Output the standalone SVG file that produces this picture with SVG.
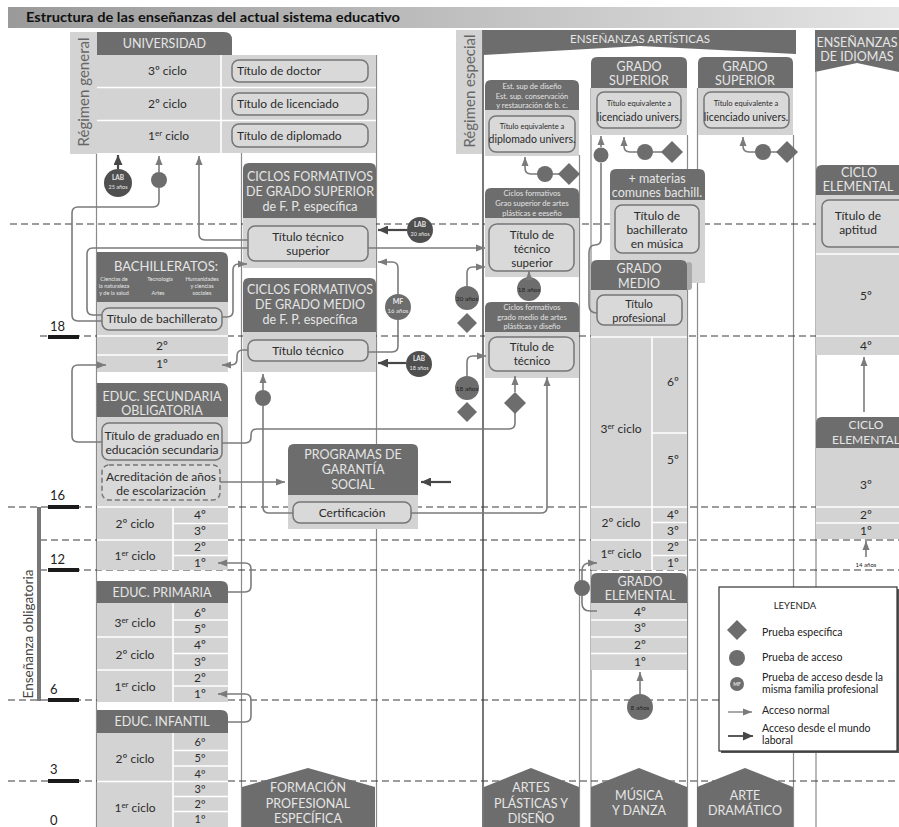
<svg xmlns="http://www.w3.org/2000/svg" width="899" height="827" viewBox="0 0 899 827">
<defs>
<linearGradient id="tg" x1="0" x2="1" y1="0" y2="0"><stop offset="0" stop-color="#9a9a9a"/><stop offset="1" stop-color="#e4e4e4"/></linearGradient>
<marker id="an" markerUnits="userSpaceOnUse" markerWidth="9" markerHeight="8" refX="9" refY="4" orient="auto"><path d="M0,0.5 L9,4 L0,7.5 Z" fill="#7b7b7b"/></marker>
<marker id="al" markerUnits="userSpaceOnUse" markerWidth="10" markerHeight="9" refX="10" refY="4.5" orient="auto"><path d="M0,0 L10,4.5 L0,9 Z" fill="#474747"/></marker>
<style>
text{font-family:Lato,"Open Sans","DejaVu Sans",sans-serif}
.lt{fill:#d3d3d3}
.hd{fill:#6d6d6d}
.bx{fill:#d9d9d9;stroke:#767676;stroke-width:1.5}
.h{fill:#e6e6e6;text-anchor:middle;font-size:12.5px}
.t{fill:#2b2b2b;text-anchor:middle;font-size:12px}
.w{stroke:#fff;stroke-width:1.6}
.vl{stroke:#8a8a8a;stroke-width:1.2}
.ds{stroke:#3a3a3a;stroke-width:1.2;stroke-dasharray:7 4}
.cn{fill:none;stroke:#7b7b7b;stroke-width:1.6}
.cl{fill:none;stroke:#474747;stroke-width:2.2}
.dot{fill:#6d6d6d}
.dk{fill:#4f4f4f}
.st{fill:#e4e4e4;text-anchor:middle;font-size:7.5px}
.sm{fill:#222;text-anchor:middle;font-size:6.5px}
.lw{fill:#e8e8e8;text-anchor:middle;font-size:6px}
.age{fill:#222;font-size:13px}
.lg{fill:#222;font-size:10.5px}
</style>
</defs>

<g id="title">
<rect x="8" y="7" width="891" height="21" fill="url(#tg)"/>
<text x="26" y="22" font-size="14" font-weight="bold" fill="#111" textLength="374" lengthAdjust="spacingAndGlyphs">Estructura de las enseñanzas del actual sistema educativo</text>
</g>

<g id="column-lines">
<line class="vl" x1="96.5" y1="153" x2="96.5" y2="827"/>
<line class="vl" x1="241.5" y1="153" x2="241.5" y2="827"/>
<line class="vl" x1="376.5" y1="55" x2="376.5" y2="827"/>
<line x1="483" y1="30" x2="483" y2="827" stroke="#555" stroke-width="1.6"/>
<line class="vl" x1="579.5" y1="155" x2="579.5" y2="827"/>
<line class="vl" x1="591" y1="88" x2="591" y2="827"/>
<line class="vl" x1="687.5" y1="135" x2="687.5" y2="827"/>
<line class="vl" x1="697.5" y1="88" x2="697.5" y2="827"/>
<line class="vl" x1="793.5" y1="135" x2="793.5" y2="827"/>
<line class="vl" x1="816" y1="72" x2="816" y2="827"/>
</g>

<g id="age-lines">
<line class="ds" x1="10" y1="224" x2="899" y2="224"/>
<line class="ds" x1="40" y1="336" x2="899" y2="336"/>
<line class="ds" x1="8" y1="507" x2="899" y2="507"/>
<line class="ds" x1="40" y1="540" x2="899" y2="540"/>
<line class="ds" x1="40" y1="570" x2="899" y2="570"/>
<line class="ds" x1="8" y1="700" x2="899" y2="700"/>
<line class="ds" x1="8" y1="781" x2="899" y2="781"/>
</g>

<g id="age-marks">
<rect x="48" y="335" width="31" height="4" fill="#1a1a1a"/>
<rect x="48" y="505" width="31" height="4" fill="#1a1a1a"/>
<rect x="48" y="568" width="31" height="4" fill="#1a1a1a"/>
<rect x="48" y="698" width="31" height="4" fill="#1a1a1a"/>
<rect x="48" y="779" width="31" height="4" fill="#1a1a1a"/>
<text class="age" x="50" y="331">18</text>
<text class="age" x="50" y="500">16</text>
<text class="age" x="50" y="564">12</text>
<text class="age" x="50" y="694">6</text>
<text class="age" x="50" y="774">3</text>
<text class="age" x="50" y="825">0</text>
<rect x="37" y="507" width="4" height="194" fill="#777"/>
<text transform="translate(33,634) rotate(-90)" font-size="13.5" fill="#444" text-anchor="middle">Enseñanza obligatoria</text>
</g>

<g id="regimen-general">
<rect class="lt" x="70" y="32" width="27" height="122"/>
<text transform="translate(89,92) rotate(-90)" font-size="15" fill="#666" text-anchor="middle">Régimen general</text>
</g>

<g id="universidad">
<path class="hd" d="M97 32H224Q232 32 232 40V55H97Z"/>
<text class="h" x="164.5" y="48">UNIVERSIDAD</text>
<rect class="lt" x="97" y="55" width="279" height="98"/>
<line class="w" x1="97" y1="87.5" x2="376" y2="87.5"/>
<line class="w" x1="97" y1="120.5" x2="376" y2="120.5"/>
<line class="w" x1="221" y1="55" x2="221" y2="153"/>
<text class="t" x="148" y="75" style="text-anchor:start">3º ciclo</text>
<text class="t" x="148" y="108" style="text-anchor:start">2º ciclo</text>
<text class="t" x="148" y="140" style="text-anchor:start">1<tspan font-size="8" dy="-4">er</tspan><tspan dy="4"> ciclo</tspan></text>
<rect class="bx" x="232" y="60" width="136" height="22" rx="7"/>
<rect class="bx" x="232" y="93" width="136" height="22" rx="7"/>
<rect class="bx" x="232" y="124" width="136" height="23" rx="7"/>
<text class="t" x="237" y="75" style="text-anchor:start">Título de doctor</text>
<text class="t" x="237" y="108" style="text-anchor:start">Título de licenciado</text>
<text class="t" x="237" y="140" style="text-anchor:start">Título de diplomado</text>
</g>

<g id="bachilleratos">
<path class="hd" d="M97 252H221Q228 252 228 259V302H97Z"/>
<text class="h" x="166" y="271" style="font-size:13px">BACHILLERATOS:</text>
<text class="lw" x="114" y="281" style="font-size:5.5px">Ciencias de</text>
<text class="lw" x="114" y="288" style="font-size:5.5px">la naturaleza</text>
<text class="lw" x="114" y="295" style="font-size:5.5px">y de la salud</text>
<text class="lw" x="160" y="281" style="font-size:5.5px">Tecnología</text>
<text class="lw" x="158" y="295" style="font-size:5.5px">Artes</text>
<text class="lw" x="202" y="281" style="font-size:5.5px">Humanidades</text>
<text class="lw" x="202" y="288" style="font-size:5.5px">y ciencias</text>
<text class="lw" x="202" y="295" style="font-size:5.5px">sociales</text>
<rect class="lt" x="97" y="302" width="131" height="70"/>
<line class="w" x1="97" y1="336" x2="228" y2="336"/>
<line class="w" x1="97" y1="355" x2="228" y2="355"/>
<rect class="bx" x="102" y="308" width="120" height="22" rx="7"/>
<text class="t" x="162" y="323">Título de bachillerato</text>
<text class="t" x="162" y="350">2º</text>
<text class="t" x="162" y="368">1º</text>
</g>

<g id="eso">
<path class="hd" d="M97 383H221Q228 383 228 390V417H97Z"/>
<text class="h" x="162" y="401">EDUC. SECUNDARIA</text>
<text class="h" x="162" y="415">OBLIGATORIA</text>
<rect class="lt" x="97" y="417" width="131" height="153"/>
<line class="w" x1="97" y1="507" x2="228" y2="507"/>
<line class="w" x1="173" y1="523.5" x2="228" y2="523.5"/>
<line class="w" x1="97" y1="540" x2="228" y2="540"/>
<line class="w" x1="173" y1="555.5" x2="228" y2="555.5"/>
<line class="w" x1="173" y1="507" x2="173" y2="570"/>
<rect class="bx" x="102" y="423" width="120" height="37" rx="7"/>
<text class="t" x="162" y="440">Título de graduado en</text>
<text class="t" x="162" y="454">educación secundaria</text>
<rect x="102" y="465" width="118" height="35" rx="7" fill="#d9d9d9" stroke="#767676" stroke-width="1.5" stroke-dasharray="5 3"/>
<text class="t" x="161" y="481">Acreditación de años</text>
<text class="t" x="161" y="495">de escolarización</text>
<text class="t" x="135" y="528">2º ciclo</text>
<text class="t" x="135" y="560">1<tspan font-size="8" dy="-4">er</tspan><tspan dy="4"> ciclo</tspan></text>
<text class="t" x="200" y="519">4º</text>
<text class="t" x="200" y="535">3º</text>
<text class="t" x="200" y="551">2º</text>
<text class="t" x="200" y="567">1º</text>
</g>

<g id="primaria">
<path class="hd" d="M97 581H221Q228 581 228 588V603H97Z"/>
<text class="h" x="162" y="597">EDUC. PRIMARIA</text>
<rect class="lt" x="97" y="603" width="131" height="99"/>
<line class="w" x1="173" y1="620" x2="228" y2="620"/>
<line class="w" x1="97" y1="637" x2="228" y2="637"/>
<line class="w" x1="173" y1="653.5" x2="228" y2="653.5"/>
<line class="w" x1="97" y1="670" x2="228" y2="670"/>
<line class="w" x1="173" y1="686" x2="228" y2="686"/>
<line class="w" x1="173" y1="603" x2="173" y2="702"/>
<text class="t" x="135" y="627">3<tspan font-size="8" dy="-4">er</tspan><tspan dy="4"> ciclo</tspan></text>
<text class="t" x="135" y="659">2º ciclo</text>
<text class="t" x="135" y="691">1<tspan font-size="8" dy="-4">er</tspan><tspan dy="4"> ciclo</tspan></text>
<text class="t" x="200" y="617">6º</text>
<text class="t" x="200" y="633">5º</text>
<text class="t" x="200" y="649">4º</text>
<text class="t" x="200" y="666">3º</text>
<text class="t" x="200" y="682">2º</text>
<text class="t" x="200" y="698">1º</text>
</g>

<g id="infantil">
<path class="hd" d="M97 710H221Q228 710 228 717V733H97Z"/>
<text class="h" x="162" y="726">EDUC. INFANTIL</text>
<rect class="lt" x="97" y="733" width="131" height="94"/>
<line class="w" x1="173" y1="750.5" x2="228" y2="750.5"/>
<line class="w" x1="173" y1="766" x2="228" y2="766"/>
<line class="w" x1="97" y1="781.5" x2="228" y2="781.5"/>
<line class="w" x1="173" y1="796.5" x2="228" y2="796.5"/>
<line class="w" x1="173" y1="811.5" x2="228" y2="811.5"/>
<line class="w" x1="173" y1="733" x2="173" y2="827"/>
<text class="t" x="135" y="763">2º ciclo</text>
<text class="t" x="135" y="812">1<tspan font-size="8" dy="-4">er</tspan><tspan dy="4"> ciclo</tspan></text>
<text class="t" x="200" y="746" style="font-size:11px">6º</text>
<text class="t" x="200" y="762" style="font-size:11px">5º</text>
<text class="t" x="200" y="777.5" style="font-size:11px">4º</text>
<text class="t" x="200" y="793" style="font-size:11px">3º</text>
<text class="t" x="200" y="808" style="font-size:11px">2º</text>
<text class="t" x="200" y="823" style="font-size:11px">1º</text>
</g>

<g id="fp-superior">
<path class="hd" d="M243 169Q243 163 249 163H370Q376 163 376 169V218H243Z"/>
<text class="h" x="310" y="181">CICLOS FORMATIVOS</text>
<text class="h" x="310" y="196">DE GRADO SUPERIOR</text>
<text class="h" x="310" y="211">de F. P. específica</text>
<rect class="lt" x="243" y="218" width="133" height="50"/>
<rect class="bx" x="248" y="226" width="120" height="35" rx="7"/>
<text class="t" x="308" y="241">Título técnico</text>
<text class="t" x="308" y="255">superior</text>
</g>

<g id="fp-medio">
<path class="hd" d="M243 284Q243 278 249 278H370Q376 278 376 284V332H243Z"/>
<text class="h" x="310" y="294">CICLOS FORMATIVOS</text>
<text class="h" x="310" y="309">DE GRADO MEDIO</text>
<text class="h" x="310" y="324">de F. P. específica</text>
<rect class="lt" x="243" y="332" width="133" height="40"/>
<rect class="bx" x="248" y="340" width="120" height="21" rx="7"/>
<text class="t" x="308" y="355">Título técnico</text>
</g>

<g id="garantia-social">
<path class="hd" d="M288 450Q288 444 294 444H412Q418 444 418 450V495H288Z"/>
<text class="h" x="353" y="459">PROGRAMAS DE</text>
<text class="h" x="353" y="474">GARANTÍA</text>
<text class="h" x="353" y="489">SOCIAL</text>
<rect class="lt" x="288" y="495" width="130" height="34"/>
<rect class="bx" x="293" y="502" width="118" height="21" rx="7"/>
<text class="t" x="352" y="517">Certificación</text>
</g>

<g id="regimen-especial">
<rect class="lt" x="456" y="30" width="26" height="124"/>
<text transform="translate(475,91) rotate(-90)" font-size="15" fill="#666" text-anchor="middle">Régimen especial</text>
</g>

<g id="ensenanzas-artisticas">
<path class="hd" d="M483 30H796V54L640 46L483 55Z"/>
<text class="h" x="640" y="43" style="font-size:11.5px">ENSEÑANZAS ARTÍSTICAS</text>
</g>

<g id="artes-superior">
<path class="hd" d="M485 86Q485 80 491 80H573Q579 80 579 86V110H485Z"/>
<text class="st" x="532" y="89">Est. sup de diseño</text>
<text class="st" x="532" y="98.5">Est. sup. conservación</text>
<text class="st" x="532" y="108">y restauración de b. c.</text>
<rect class="lt" x="485" y="110" width="94" height="46"/>
<rect class="bx" x="489" y="116" width="86" height="36" rx="7"/>
<text class="t" x="532" y="129" style="font-size:7.5px">Título equivalente a</text>
<text class="t" x="532" y="143" style="font-size:10.5px">diplomado univers.</text>
</g>

<g id="artes-cf-superior">
<path class="hd" d="M485 194Q485 188 491 188H573Q579 188 579 194V218H485Z"/>
<text class="st" x="532" y="196">Ciclos formativos</text>
<text class="st" x="532" y="206">Grao superior de artes</text>
<text class="st" x="532" y="216">plásticas e eeseño</text>
<rect class="lt" x="485" y="218" width="94" height="59"/>
<rect class="bx" x="489" y="224" width="85" height="47" rx="8"/>
<text class="t" x="532" y="238.5" style="font-size:11.5px">Título de</text>
<text class="t" x="532" y="252.5" style="font-size:11.5px">técnico</text>
<text class="t" x="532" y="266.5" style="font-size:11.5px">superior</text>
</g>

<g id="artes-cf-medio">
<path class="hd" d="M485 308Q485 302 491 302H573Q579 302 579 308V332H485Z"/>
<text class="st" x="532" y="310">Ciclos formativos</text>
<text class="st" x="532" y="319.5">grado medio de artes</text>
<text class="st" x="532" y="329">plásticas y diseño</text>
<rect class="lt" x="485" y="332" width="94" height="46"/>
<rect class="bx" x="489" y="337" width="85" height="34" rx="8"/>
<text class="t" x="532" y="351" style="font-size:11.5px">Título de</text>
<text class="t" x="532" y="365" style="font-size:11.5px">técnico</text>
</g>

<g id="musica-superior">
<path class="hd" d="M591 63Q591 57 597 57H681Q687 57 687 63V88H591Z"/>
<text class="h" x="639" y="71">GRADO</text>
<text class="h" x="639" y="85">SUPERIOR</text>
<rect class="lt" x="591" y="88" width="96" height="47"/>
<rect class="bx" x="597" y="92" width="84" height="36" rx="7"/>
<text class="t" x="639" y="106" style="font-size:7.5px">Título equivalente a</text>
<text class="t" x="639" y="121" style="font-size:10.5px">licenciado univers.</text>
</g>

<g id="dramatico-superior">
<path class="hd" d="M698 63Q698 57 704 57H787Q793 57 793 63V88H698Z"/>
<text class="h" x="745" y="71">GRADO</text>
<text class="h" x="745" y="85">SUPERIOR</text>
<rect class="lt" x="698" y="88" width="95" height="47"/>
<rect class="bx" x="704" y="92" width="85" height="36" rx="7"/>
<text class="t" x="746" y="106" style="font-size:7.5px">Título equivalente a</text>
<text class="t" x="746" y="121" style="font-size:10.5px">licenciado univers.</text>
</g>

<g id="materias-comunes">
<path class="hd" d="M610 175Q610 169 616 169H699Q705 169 705 175V200H610Z"/>
<text class="h" x="657" y="183">+ materias</text>
<text class="h" x="657" y="197">comunes bachill.</text>
<rect class="lt" x="610" y="200" width="95" height="83"/>
<rect class="bx" x="615" y="205" width="84" height="48" rx="7"/>
<text class="t" x="657" y="220">Título de</text>
<text class="t" x="657" y="234">bachillerato</text>
<text class="t" x="657" y="248">en música</text>
<rect x="686" y="262" width="6" height="28" rx="3" fill="#ababab"/>
</g>

<g id="musica-medio">
<path class="hd" d="M591 266Q591 260 597 260H681Q687 260 687 266V290H591Z"/>
<text class="h" x="639" y="273">GRADO</text>
<text class="h" x="639" y="288">MEDIO</text>
<rect class="lt" x="591" y="290" width="96" height="280"/>
<line class="w" x1="591" y1="337" x2="687" y2="337"/>
<line class="w" x1="652" y1="433" x2="687" y2="433"/>
<line class="w" x1="591" y1="507" x2="687" y2="507"/>
<line class="w" x1="652" y1="522.5" x2="687" y2="522.5"/>
<line class="w" x1="591" y1="540" x2="687" y2="540"/>
<line class="w" x1="652" y1="555.5" x2="687" y2="555.5"/>
<line class="w" x1="652" y1="337" x2="652" y2="570"/>
<rect class="bx" x="597" y="295" width="85" height="30" rx="7"/>
<text class="t" x="639" y="308" style="font-size:11px">Título</text>
<text class="t" x="639" y="321.5" style="font-size:11px">profesional</text>
<text class="t" x="621" y="433">3<tspan font-size="8" dy="-4">er</tspan><tspan dy="4"> ciclo</tspan></text>
<text class="t" x="673" y="386">6º</text>
<text class="t" x="673" y="464">5º</text>
<text class="t" x="621" y="527">2º ciclo</text>
<text class="t" x="673" y="519">4º</text>
<text class="t" x="673" y="535">3º</text>
<text class="t" x="621" y="558">1<tspan font-size="8" dy="-4">er</tspan><tspan dy="4"> ciclo</tspan></text>
<text class="t" x="673" y="551">2º</text>
<text class="t" x="673" y="567">1º</text>
</g>

<g id="musica-elemental">
<path class="hd" d="M591 579Q591 573 597 573H681Q687 573 687 579V603H591Z"/>
<text class="h" x="640" y="586">GRADO</text>
<text class="h" x="640" y="600">ELEMENTAL</text>
<rect class="lt" x="591" y="603" width="96" height="67"/>
<line class="w" x1="591" y1="620" x2="687" y2="620"/>
<line class="w" x1="591" y1="637" x2="687" y2="637"/>
<line class="w" x1="591" y1="653.5" x2="687" y2="653.5"/>
<text class="t" x="640" y="616">4º</text>
<text class="t" x="640" y="632">3º</text>
<text class="t" x="640" y="649">2º</text>
<text class="t" x="640" y="666">1º</text>
</g>

<g id="idiomas-header">
<path class="hd" d="M815 30H899V72L857 63L815 72Z"/>
<text class="h" x="857" y="47">ENSEÑANZAS</text>
<text class="h" x="857" y="61">DE IDIOMAS</text>
</g>

<g id="idiomas-superior">
<path class="hd" d="M816 171Q816 165 822 165H899V195H816Z"/>
<text class="h" x="859" y="177">CICLO</text>
<text class="h" x="858" y="191">ELEMENTAL</text>
<rect class="lt" x="816" y="195" width="83" height="160"/>
<line class="w" x1="816" y1="254" x2="899" y2="254"/>
<line class="w" x1="816" y1="336" x2="899" y2="336"/>
<rect class="bx" x="822" y="200" width="84" height="47" rx="7"/>
<text class="t" x="858" y="220">Título de</text>
<text class="t" x="858" y="234">aptitud</text>
<text class="t" x="866" y="300">5º</text>
<text class="t" x="866" y="350">4º</text>
</g>

<g id="idiomas-elemental">
<path class="hd" d="M816 423Q816 417 822 417H899V448H816Z"/>
<text class="h" x="866" y="429" style="font-size:12px">CICLO</text>
<text class="h" x="866" y="444" style="font-size:12px">ELEMENTAL</text>
<rect class="lt" x="816" y="448" width="83" height="91"/>
<line class="w" x1="816" y1="507" x2="899" y2="507"/>
<line class="w" x1="816" y1="523" x2="899" y2="523"/>
<text class="t" x="866" y="489">3º</text>
<text class="t" x="866" y="519">2º</text>
<text class="t" x="866" y="535">1º</text>
</g>

<g id="connectors">
<path class="cl" d="M118 169V155" marker-end="url(#al)"/>
<path class="cn" d="M102 321H78Q72 321 72 315V213Q72 207 78 207H153Q159 207 159 201V188"/>
<path class="cn" d="M159 172V156" marker-end="url(#an)"/>
<path class="cn" d="M248 240H205Q199 240 199 234V156" marker-end="url(#an)"/>
<path class="cn" d="M102 315H93Q87 315 87 309V254Q87 248 93 248H248"/>
<path class="cn" d="M222 317H227Q233 317 233 311V270Q233 264 239 264H247" marker-end="url(#an)"/>
<path class="cn" d="M248 350H243Q237 350 237 356V359Q237 365 231 365H222" marker-end="url(#an)"/>
<path class="cn" d="M102 442H78Q72 442 72 436V371Q72 365 78 365H106" marker-end="url(#an)"/>
<path class="cn" d="M222 443H245Q251 443 251 437V435Q251 429 257 429H509Q515 429 515 423V413"/>
<path class="cn" d="M515 392V376" marker-end="url(#an)"/>
<path class="cn" d="M220 482H285" marker-end="url(#an)"/>
<path class="cn" d="M293 513H269Q263 513 263 507V406"/>
<path class="cn" d="M263 390V374" marker-end="url(#an)"/>
<path class="cn" d="M411 513H541Q547 513 547 507V377" marker-end="url(#an)"/>
<path class="cl" d="M451 482H421" marker-end="url(#al)"/>
<path class="cl" d="M407 230H378" marker-end="url(#al)"/>
<path class="cn" d="M368 248H485" marker-end="url(#an)"/>
<path class="cn" d="M368 352H392Q398 352 398 346V320"/>
<path class="cn" d="M398 294V268Q398 262 392 262H378" marker-end="url(#an)"/>
<path class="cl" d="M406 363H378" marker-end="url(#al)"/>
<path class="cn" d="M467 286V273Q467 267 473 267H485" marker-end="url(#an)"/>
<path class="cn" d="M467 376V362Q467 356 473 356H486" marker-end="url(#an)"/>
<path class="cn" d="M569 174H531Q525 174 525 168V157" marker-end="url(#an)"/>
<path class="cn" d="M597 313Q589 313 589 305V253Q589 245 595 245Q601 245 601 239V163"/>
<path class="cn" d="M601 147V136" marker-end="url(#an)"/>
<path class="cn" d="M672 152H630Q624 152 624 146V137" marker-end="url(#an)"/>
<path class="cn" d="M787 152H749Q743 152 743 146V137" marker-end="url(#an)"/>
<path class="cn" d="M597 611H590Q582 611 582 603V571Q582 563 590 563H597" marker-end="url(#an)"/>
<path class="cn" d="M640 694V672" marker-end="url(#an)"/>
<path class="cn" d="M864 412V357" marker-end="url(#an)"/>
<path class="cn" d="M866 557V541" marker-end="url(#an)"/>
<path class="cn" d="M228 592H245Q251 592 251 586V569Q251 563 245 563H218" marker-end="url(#an)"/>
<path class="cn" d="M228 722H245Q251 722 251 716V700Q251 694 245 694H218" marker-end="url(#an)"/>
</g>

<g id="tests">
<circle class="dk" cx="118" cy="183" r="14"/>
<text class="lw" x="118" y="180" style="font-size:6.5px;font-weight:bold">LAB</text>
<text class="lw" x="118" y="189" style="font-size:5.5px">25 años</text>
<circle class="dot" cx="159" cy="180" r="8"/>
<circle class="dot" cx="263" cy="398" r="8"/>
<polygon class="dot" points="515,392 526,403 515,414 504,403"/>
<circle class="dk" cx="420" cy="230" r="13"/>
<text class="lw" x="420" y="227" style="font-size:6.5px;font-weight:bold">LAB</text>
<text class="lw" x="420" y="236" style="font-size:5.5px">20 años</text>
<circle class="dot" cx="398" cy="307" r="13"/>
<text class="lw" x="398" y="304" style="font-size:7px;font-weight:bold">MF</text>
<text class="lw" x="398" y="313" style="font-size:6px">16 años</text>
<circle class="dk" cx="419" cy="364" r="13"/>
<text class="lw" x="419" y="361" style="font-size:6.5px;font-weight:bold">LAB</text>
<text class="lw" x="419" y="370" style="font-size:5.5px">18 años</text>
<circle class="dot" cx="467" cy="298" r="12"/>
<text class="sm" x="467" y="300.5">20 años</text>
<polygon class="dot" points="467,313 477,323 467,333 457,323"/>
<circle class="dot" cx="467" cy="388" r="12"/>
<text class="sm" x="467" y="390.5">18 años</text>
<polygon class="dot" points="467,402 477,412 467,422 457,412"/>
<circle class="dot" cx="529" cy="289" r="12"/>
<text class="sm" x="529" y="291.5">18 años</text>
<path class="cn" d="M529 279V271" marker-end="url(#an)"/>
<circle class="dot" cx="545" cy="174" r="8"/>
<polygon class="dot" points="569,163 580,174 569,185 558,174"/>
<circle class="dot" cx="601" cy="155" r="7.5"/>
<circle class="dot" cx="645" cy="152" r="8"/>
<polygon class="dot" points="672,141 683,152 672,163 661,152"/>
<circle class="dot" cx="763" cy="152" r="8"/>
<polygon class="dot" points="787,141 798,152 787,163 776,152"/>
<circle class="dot" cx="582" cy="588" r="8"/>
<circle class="dot" cx="640" cy="707" r="13"/>
<text class="sm" x="640" y="709.5">8 años</text>
<text class="sm" x="866" y="567" style="font-size:6px">14 años</text>
</g>

<g id="bottom-labels">
<polygon class="hd" points="242,827 242,787 308,768 375,787 375,827"/>
<text class="h" x="308" y="792">FORMACIÓN</text>
<text class="h" x="308" y="808">PROFESIONAL</text>
<text class="h" x="308" y="823">ESPECÍFICA</text>
<polygon class="hd" points="484,827 484,787 531,768 579,787 579,827"/>
<text class="h" x="531" y="792">ARTES</text>
<text class="h" x="531" y="808">PLÁSTICAS Y</text>
<text class="h" x="531" y="823">DISEÑO</text>
<polygon class="hd" points="591,827 591,787 639,768 687,787 687,827"/>
<text class="h" x="639" y="800">MÚSICA</text>
<text class="h" x="639" y="815">Y DANZA</text>
<polygon class="hd" points="697,827 697,787 745,768 793,787 793,827"/>
<text class="h" x="745" y="800">ARTE</text>
<text class="h" x="745" y="815">DRAMÁTICO</text>
</g>

<g id="legend">
<rect x="721" y="589" width="178" height="164" fill="#555"/>
<rect x="719" y="587" width="178" height="164" fill="#fff" stroke="#333" stroke-width="1.2"/>
<text x="795" y="609" text-anchor="middle" fill="#222" font-size="9.5">LEYENDA</text>
<polygon class="dot" points="737,620 747,630 737,640 727,630"/>
<text class="lg" x="762" y="636">Prueba específica</text>
<circle class="dot" cx="737" cy="658" r="8"/>
<text class="lg" x="762" y="661">Prueba de acceso</text>
<circle class="dot" cx="737" cy="684" r="7"/>
<text class="lw" x="737" y="686" style="font-size:5px;font-weight:bold">MF</text>
<text class="lg" x="762" y="681">Prueba de acceso desde la</text>
<text class="lg" x="762" y="693">misma familia profesional</text>
<path class="cn" d="M728 712H752" marker-end="url(#an)" style="stroke-width:1.3"/>
<text class="lg" x="762" y="714">Acceso normal</text>
<path class="cl" d="M728 736H753" marker-end="url(#al)" style="stroke-width:1.8"/>
<text class="lg" x="762" y="732">Acceso desde el mundo</text>
<text class="lg" x="762" y="744">laboral</text>
</g>
</svg>
